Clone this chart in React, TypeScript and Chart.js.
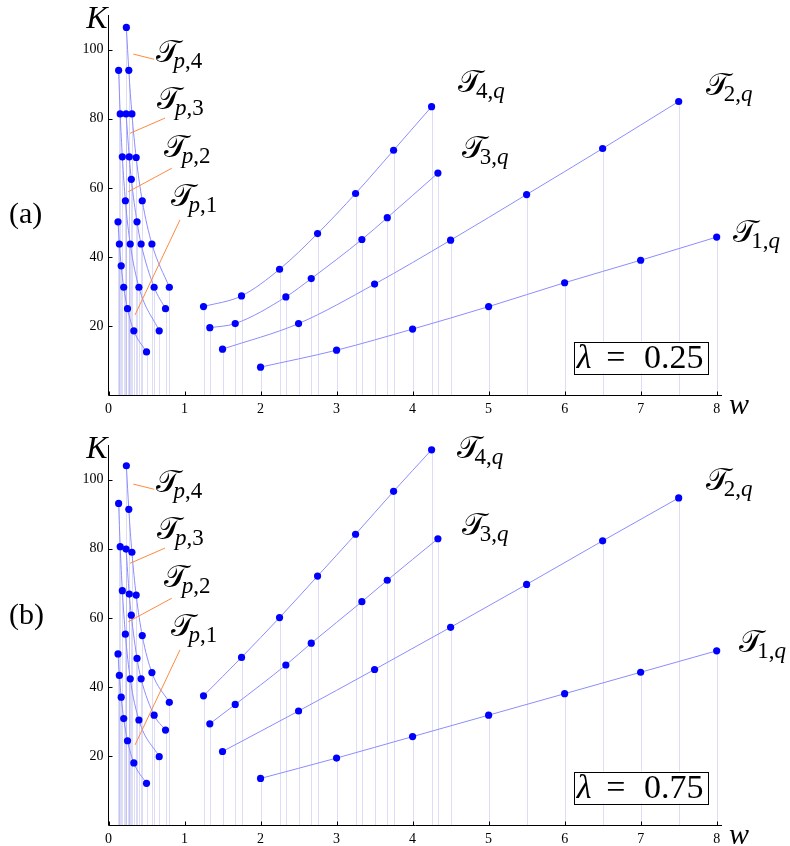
import React, { useEffect, useRef } from "react";
import { Chart, registerables } from "chart.js";
Chart.register(...registerables);

// ---------- data ----------
const XTICKS = [0, 1, 2, 3, 4, 5, 6, 7, 8];
const YTICKS = [20, 40, 60, 80, 100];

// w = q/p for the T_{p,q} families on the left (q fixed)
const W_P1 = [0.5, 0.333, 0.25, 0.2, 0.167, 0.143, 0.125];
const W_P2 = [0.667, 0.4, 0.286, 0.222, 0.182, 0.154, 0.133];
const W_P3 = [0.75, 0.6, 0.429, 0.375, 0.3, 0.273, 0.231];
const W_P4 = [0.8, 0.571, 0.444, 0.364, 0.308, 0.267, 0.235];
// w for the T_{p,q} families on the right (p fixed)
const W_1Q = [2, 3, 4, 5, 6, 7, 8];
const W_2Q = [1.5, 2.5, 3.5, 4.5, 5.5, 6.5, 7.5];
const W_3Q = [1.333, 1.667, 2.333, 2.667, 3.333, 3.667, 4.333];
const W_4Q = [1.25, 1.75, 2.25, 2.75, 3.25, 3.75, 4.25];

// (a) lambda = 0.25
const KA_P1 = [12.6, 18.7, 25.1, 31.3, 37.5, 43.8, 50.2];
const KA_P2 = [18.7, 31.3, 43.8, 56.3, 69.0, 81.4, 94.0];
const KA_P3 = [25.1, 31.3, 43.8, 50.2, 62.5, 69.0, 81.4];
const KA_P4 = [31.3, 43.8, 56.3, 68.8, 81.4, 94.0, 106.4];
const KA_1Q = [8.2, 13.1, 19.2, 25.7, 32.6, 39.1, 45.8];
const KA_2Q = [13.4, 20.8, 32.2, 44.9, 58.1, 71.4, 85.0];
const KA_3Q = [19.6, 20.8, 28.5, 33.8, 45.1, 51.4, 64.3];
const KA_4Q = [25.7, 28.8, 36.5, 46.8, 58.4, 70.9, 83.5];

// (b) lambda = 0.75
const KB_P1 = [12.2, 18.1, 24.5, 30.9, 37.1, 43.4, 49.6];
const KB_P2 = [19.9, 30.5, 42.4, 55.3, 67.9, 80.6, 93.1];
const KB_P3 = [27.6, 31.9, 42.4, 48.3, 60.8, 66.9, 79.9];
const KB_P4 = [35.6, 44.2, 54.9, 66.6, 79.0, 91.4, 104.0];
const KB_1Q = [13.6, 19.5, 25.7, 31.9, 38.1, 44.3, 50.5];
const KB_2Q = [21.4, 33.1, 45.1, 57.3, 69.7, 82.3, 94.7];
const KB_3Q = [29.4, 35.0, 46.4, 52.7, 64.7, 70.9, 82.9];
const KB_4Q = [37.5, 48.6, 60.1, 72.1, 84.2, 96.6, 108.6];

// ---------- styles ----------
const POINT = "#0000ff";
const LINE = "#8c8cff";
const DROP = "rgba(100,100,215,0.22)";
const LEADER = "#ff8a3c";
const SERIF = '"Liberation Serif", "DejaVu Serif", serif';
const TCHAR = "\u{1D4AF}";

type Part = [string, boolean];
type Label = { parts: Part[]; at: [number, number]; leader?: [number, number, number, number] };

const LEFT_LABELS: Label[] = [
  { parts: [["p", true], [",4", false]], at: [0.62, 96.4], leader: [0.326, 98.7, 0.6, 97.2] },
  { parts: [["p", true], [",3", false]], at: [0.64, 82.9], leader: [0.283, 75.8, 0.743, 80.2] },
  { parts: [["p", true], [",2", false]], at: [0.73, 68.9], leader: [0.26, 58.9, 0.832, 65.7] },
  { parts: [["p", true], [",1", false]], at: [0.82, 54.8], leader: [0.349, 23.3, 0.941, 50.8] },
];

const RIGHT_LABELS_A: Label[] = [
  { parts: [["4,", false], ["q", true]], at: [4.6, 87.8] },
  { parts: [["3,", false], ["q", true]], at: [4.65, 68.7] },
  { parts: [["2,", false], ["q", true]], at: [7.86, 86.9] },
  { parts: [["1,", false], ["q", true]], at: [8.22, 44.4] },
];
const RIGHT_LABELS_B: Label[] = [
  { parts: [["4,", false], ["q", true]], at: [4.58, 106.3] },
  { parts: [["3,", false], ["q", true]], at: [4.65, 84.0] },
  { parts: [["2,", false], ["q", true]], at: [7.86, 97.0] },
  { parts: [["1,", false], ["q", true]], at: [8.3, 50.2] },
];

type PanelCfg = {
  series: { w: number[]; k: number[] }[];
  labels: Label[];
  lambda: string;
};

const PANEL_A: PanelCfg = {
  series: [
    { w: W_P1, k: KA_P1 }, { w: W_P2, k: KA_P2 }, { w: W_P3, k: KA_P3 }, { w: W_P4, k: KA_P4 },
    { w: W_1Q, k: KA_1Q }, { w: W_2Q, k: KA_2Q }, { w: W_3Q, k: KA_3Q }, { w: W_4Q, k: KA_4Q },
  ],
  labels: [...LEFT_LABELS, ...RIGHT_LABELS_A],
  lambda: "0.25",
};
const PANEL_B: PanelCfg = {
  series: [
    { w: W_P1, k: KB_P1 }, { w: W_P2, k: KB_P2 }, { w: W_P3, k: KB_P3 }, { w: W_P4, k: KB_P4 },
    { w: W_1Q, k: KB_1Q }, { w: W_2Q, k: KB_2Q }, { w: W_3Q, k: KB_3Q }, { w: W_4Q, k: KB_4Q },
  ],
  labels: [...LEFT_LABELS, ...RIGHT_LABELS_B],
  lambda: "0.75",
};

function drawTLabel(ctx: CanvasRenderingContext2D, x: number, y: number, parts: Part[]) {
  ctx.fillStyle = "#000";
  ctx.textBaseline = "alphabetic";
  ctx.textAlign = "left";
  ctx.font = `31px ${SERIF}`;
  ctx.fillText(TCHAR, x, y);
  const tw = ctx.measureText(TCHAR).width;
  let cx = x + tw * 0.74;
  const sy = y + 6;
  for (const [t, it] of parts) {
    ctx.font = `${it ? "italic " : ""}23px ${SERIF}`;
    ctx.fillText(t, cx, sy);
    cx += ctx.measureText(t).width;
  }
}

function makePlugin(cfg: PanelCfg) {
  return {
    id: "annot",
    beforeDatasetsDraw(chart: any) {
      const { ctx, scales } = chart;
      const x = scales.x, y = scales.y;
      ctx.save();
      ctx.strokeStyle = DROP;
      ctx.lineWidth = 1;
      chart.data.datasets.forEach((ds: any) =>
        ds.data.forEach((p: any) => {
          const px = Math.round(x.getPixelForValue(p.x)) + 0.5;
          ctx.beginPath();
          ctx.moveTo(px, y.getPixelForValue(p.y));
          ctx.lineTo(px, y.getPixelForValue(0));
          ctx.stroke();
        })
      );
      ctx.restore();
    },
    afterDraw(chart: any) {
      const { ctx, scales, chartArea: ca } = chart;
      const x = scales.x, y = scales.y;
      ctx.save();
      // axes
      ctx.strokeStyle = "#000";
      ctx.lineWidth = 1;
      ctx.beginPath();
      ctx.moveTo(ca.left, ca.top);
      ctx.lineTo(ca.left, ca.bottom);
      ctx.lineTo(ca.right, ca.bottom);
      ctx.stroke();
      ctx.beginPath();
      XTICKS.forEach((v) => {
        const px = Math.round(x.getPixelForValue(v)) + 0.5;
        ctx.moveTo(px, ca.bottom);
        ctx.lineTo(px, ca.bottom - 4);
      });
      YTICKS.forEach((v) => {
        const py = Math.round(y.getPixelForValue(v)) + 0.5;
        ctx.moveTo(ca.left, py);
        ctx.lineTo(ca.left + 4, py);
      });
      ctx.stroke();
      // axis titles
      ctx.fillStyle = "#000";
      ctx.font = `italic 32px ${SERIF}`;
      ctx.textAlign = "right";
      ctx.textBaseline = "alphabetic";
      ctx.fillText("K", ca.left - 1, ca.top + 13);
      ctx.textAlign = "left";
      ctx.font = `italic 30px ${SERIF}`;
      ctx.fillText("w", ca.right + 7, ca.bottom + 18);
      // leaders + labels
      cfg.labels.forEach((l) => {
        if (l.leader) {
          const [x1, y1, x2, y2] = l.leader;
          ctx.strokeStyle = LEADER;
          ctx.lineWidth = 1;
          ctx.beginPath();
          ctx.moveTo(x.getPixelForValue(x1), y.getPixelForValue(y1));
          ctx.lineTo(x.getPixelForValue(x2), y.getPixelForValue(y2));
          ctx.stroke();
        }
        drawTLabel(ctx, x.getPixelForValue(l.at[0]), y.getPixelForValue(l.at[1]), l.parts);
      });
      // lambda box
      const bx1 = x.getPixelForValue(6.12), bx2 = x.getPixelForValue(7.88);
      const by1 = y.getPixelForValue(15.6), by2 = y.getPixelForValue(6.4);
      ctx.fillStyle = "#fff";
      ctx.fillRect(bx1, by1, bx2 - bx1, by2 - by1);
      ctx.strokeStyle = "#000";
      ctx.lineWidth = 1;
      ctx.strokeRect(Math.round(bx1) + 0.5, Math.round(by1) + 0.5, Math.round(bx2 - bx1), Math.round(by2 - by1));
      ctx.fillStyle = "#000";
      ctx.textAlign = "left";
      const base = by2 - 5;
      ctx.font = `italic 34px ${SERIF}`;
      ctx.fillText("\u03BB", bx1 + 3, base);
      ctx.font = `34px ${SERIF}`;
      ctx.textAlign = "center";
      ctx.fillText("=", bx1 + 42, base);
      ctx.textAlign = "right";
      ctx.fillText(cfg.lambda, bx2 - 4, base);
      ctx.restore();
    },
  };
}

function buildConfig(cfg: PanelCfg): any {
  return {
    type: "scatter",
    data: {
      datasets: cfg.series.map((s) => ({
        data: s.w.map((w, i) => ({ x: w, y: s.k[i] })).sort((a, b) => a.x - b.x),
        showLine: true,
        borderColor: LINE,
        borderWidth: 1,
        pointRadius: 3.6,
        pointBackgroundColor: POINT,
        pointBorderWidth: 0,
        cubicInterpolationMode: "monotone",
        clip: false,
      })),
    },
    options: {
      responsive: false,
      animation: false,
      events: [],
      layout: { padding: { left: 0, right: 68, top: 15, bottom: 0 } },
      plugins: { legend: { display: false }, tooltip: { enabled: false } },
      scales: {
        x: {
          type: "linear",
          min: 0,
          max: 8.07,
          afterBuildTicks: (s: any) => {
            s.ticks = XTICKS.map((v) => ({ value: v }));
          },
          afterFit: (s: any) => {
            s.height = 34.5;
          },
          grid: { display: false, drawTicks: false },
          border: { display: false },
          ticks: { color: "#000", font: { family: SERIF, size: 14 }, padding: 5, maxRotation: 0, autoSkip: false },
        },
        y: {
          type: "linear",
          min: 0,
          max: 110,
          afterBuildTicks: (s: any) => {
            s.ticks = YTICKS.map((v) => ({ value: v }));
          },
          afterFit: (s: any) => {
            s.width = 108.5;
          },
          grid: { display: false, drawTicks: false },
          border: { display: false },
          ticks: { color: "#000", font: { family: SERIF, size: 14 }, padding: 5, autoSkip: false },
        },
      },
    },
    plugins: [makePlugin(cfg)],
  };
}

function Panel({ top, cfg }: { top: number; cfg: PanelCfg }) {
  const ref = useRef<HTMLCanvasElement>(null);
  useEffect(() => {
    const chart = new Chart(ref.current as HTMLCanvasElement, buildConfig(cfg));
    return () => chart.destroy();
  }, [cfg]);
  return (
    <canvas
      ref={ref}
      width={790}
      height={430}
      style={{ position: "absolute", left: 0, top, width: 790, height: 430 }}
    />
  );
}

export default function App() {
  const tag: React.CSSProperties = {
    position: "absolute",
    left: 9,
    fontFamily: SERIF,
    fontSize: 30,
    lineHeight: "30px",
    color: "#000",
  };
  return (
    <div
      style={{
        position: "fixed",
        left: 0,
        top: 0,
        width: 790,
        height: 846,
        overflow: "hidden",
        background: "#fff",
      }}
    >
      <Panel top={0} cfg={PANEL_A} />
      <Panel top={430} cfg={PANEL_B} />
      <div style={{ ...tag, top: 198 }}>(a)</div>
      <div style={{ ...tag, top: 599 }}>(b)</div>
    </div>
  );
}
